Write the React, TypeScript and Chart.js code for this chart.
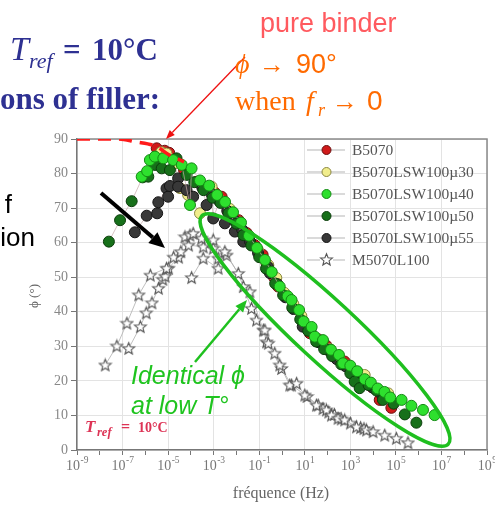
import React, { useEffect, useRef } from 'react';
import { Chart, registerables } from 'chart.js';

Chart.register(...registerables);

// ---------- axes ----------
const xTickExponents = [-9, -8, -7, -6, -5, -4, -3, -2, -1, 0, 1, 2, 3, 4, 5, 6, 7, 8, 9];
const yTickValues = [0, 10, 20, 30, 40, 50, 60, 70, 80, 90];

// ---------- series (log10 of frequency in Hz, phase angle in degrees) ----------
const b5070LogF = [-5.5, -5.15, -4.95, -4.63, -4.3, -3.75, -3.4, -2.95, -2.65, -2.25, -1.9, -1.55, -1.2, -0.85, -0.68, -0.35, -0.17, 0.2, 0.55, 0.9, 1.22, 1.6, 1.95, 2.35, 2.75, 3.15, 3.55, 3.95, 4.29, 4.8];
const b5070Phi = [87.3, 86.6, 86.0, 83.4, 81.0, 77.6, 76.2, 74.5, 73.3, 69.0, 66.5, 62.8, 59.3, 56.5, 54.0, 50.0, 47.3, 44.5, 41.2, 37.5, 33.8, 32.0, 30.2, 27.0, 25.6, 22.4, 20.0, 18.2, 14.5, 12.2];

const mu30LogF = [-5.3, -5.07, -4.7, -4.48, -4.12, -3.6, -3.09, -2.7, -2.3, -1.85, -1.45, -1.05, -0.6, -0.25, 0.1, 0.5, 0.85, 1.25, 1.7, 2.1, 2.5, 2.9, 3.3, 3.63, 4.1, 4.66];
const mu30Phi = [86.2, 85.8, 83.0, 75.8, 73.8, 68.5, 76.2, 72.2, 69.8, 65.8, 61.5, 57.8, 53.5, 49.8, 45.5, 42.2, 38.8, 35.2, 31.5, 29.2, 26.8, 24.4, 22.6, 21.7, 17.8, 16.4];

const mu40LogF = [-6.16, -5.92, -5.8, -5.58, -5.21, -4.78, -4.4, -4.04, -3.97, -3.6, -3.2, -2.85, -2.5, -2.15, -1.8, -1.45, -1.1, -0.75, -0.45, -0.1, 0.25, 0.42, 0.75, 0.95, 1.3, 1.44, 1.8, 2.15, 2.5, 2.68, 3.0, 3.3, 3.63, 3.9, 4.2, 4.5, 4.75, 5.25, 5.68, 6.19, 6.7];
const mu40Phi = [79.1, 80.7, 83.9, 84.9, 84.4, 83.9, 82.5, 70.9, 81.5, 78.0, 76.5, 73.8, 71.8, 68.8, 65.8, 62.0, 58.5, 55.0, 51.5, 47.3, 44.5, 43.4, 40.5, 37.2, 35.6, 32.8, 31.8, 29.0, 27.5, 25.1, 24.4, 22.8, 20.5, 19.5, 17.8, 16.8, 15.2, 14.5, 12.8, 11.6, 10.1];

const mu50LogF = [-7.6, -7.11, -6.6, -6.12, -5.87, -5.58, -5.28, -4.92, -4.63, -4.19, -3.85, -3.45, -3.05, -2.7, -2.35, -2.0, -1.7, -1.35, -1.0, -0.7, -0.3, 0.05, 0.45, 0.8, 1.15, 1.5, 1.85, 2.2, 2.6, 3.0, 3.19, 3.41, 3.8, 4.15, 4.43, 4.9, 5.39, 5.9];
const mu50Phi = [60.3, 66.5, 72.0, 78.9, 79.1, 82.5, 81.5, 81.0, 84.4, 79.6, 77.5, 75.2, 73.0, 71.5, 68.5, 65.5, 62.2, 59.2, 55.8, 52.5, 48.2, 44.8, 41.2, 37.8, 34.5, 31.4, 29.2, 27.2, 24.8, 22.2, 19.8, 17.9, 18.8, 17.2, 14.5, 13.4, 10.3, 7.9];

const mu55LogF = [-6.46, -5.94, -5.48, -5.43, -5.07, -5.0, -4.92, -4.56, -4.56, -4.19, -3.9, -3.5, -3.31, -3.1, -3.02, -2.75, -2.51, -2.4, -2.07, -2.05, -1.75, -1.7, -1.4, -1.05, -0.62, -0.53, -0.2, 0.15, 0.5, 0.91, 1.25, 1.6, 2.0, 2.4, 2.8, 3.2, 3.6, 4.0, 4.4];
const mu55Phi = [63.0, 67.8, 68.5, 71.7, 75.7, 73.3, 76.4, 78.6, 76.2, 75.2, 73.3, 76.0, 70.9, 74.2, 67.0, 72.0, 65.6, 69.2, 63.2, 66.2, 63.8, 60.3, 60.3, 57.0, 53.0, 51.2, 48.0, 44.2, 40.8, 35.7, 34.5, 31.2, 29.0, 26.3, 24.2, 21.6, 19.5, 18.0, 15.8];

// M5070L100 (stars), three isotherm branches
const m5070aLogF = [-7.76, -7.25, -6.81, -6.29, -5.78, -5.07, -4.76, -4.44, -4.26, -4.04, -3.9, -3.53, -3.02, -2.51, -1.92, -1.7, -1.34, -1.12, -0.75, -0.6, -0.32, -0.1, 0.34, 0.64, 1.0, 1.51, 1.95, 2.17, 2.46, 2.75, 3.27, 3.71, 4.0, 4.51, 5.02, 5.53];
const m5070aPhi = [24.6, 30.1, 36.7, 44.9, 50.6, 52.6, 55.8, 57.4, 61.7, 62.2, 62.7, 61.3, 60.8, 57.4, 51.1, 47.3, 41.0, 37.6, 34.7, 30.9, 28.0, 24.6, 18.8, 19.3, 15.9, 13.0, 11.6, 10.1, 9.2, 8.7, 6.7, 5.8, 5.3, 4.3, 3.4, 2.1];
const m5070bLogF = [-6.73, -6.22, -5.96, -5.71, -5.42, -5.23, -5.13, -4.98, -4.54, -4.1, -3.46, -3.02, -2.8, -2.43, -1.41, -0.82, -0.68, -0.02, 0.42, 1.1, 1.59, 1.8, 2.05, 2.3, 2.6, 3.0, 3.45, 3.6];
const m5070bPhi = [29.4, 35.7, 39.7, 42.6, 46.8, 49.4, 50.3, 52.6, 55.8, 59.3, 58.8, 58.4, 55.5, 56.4, 45.8, 34.7, 31.3, 23.6, 18.8, 15.5, 13.0, 12.0, 11.0, 10.3, 9.0, 7.8, 6.5, 6.2];
const m5070cLogF = [-3.97, -3.46, -2.8];
const m5070cPhi = [49.9, 55.5, 52.6];

// pure-binder asymptote (red dashed)
const binderLogF = [-9, -7.2, -6.46, -5.5, -5.0, -4.3];
const binderPhi = [90, 90, 89.2, 87.8, 85.6, 83.4];

const seriesLabels = ['B5070', 'B5070LSW100\u00b530', 'B5070LSW100\u00b540', 'B5070LSW100\u00b550', 'B5070LSW100\u00b555', 'M5070L100'];
const seriesFill = ['#d01a1a', '#f1ed8c', '#2ee02e', '#17701a', '#383838', '#ffffff'];
const seriesEdge = ['#6a1010', '#8a8640', '#138a13', '#0b3d0b', '#151515', '#555555'];

const SERIF = '"Liberation Serif", "DejaVu Serif", serif';
const SANS = '"Liberation Sans", Arial, sans-serif';

function pts(lf: number[], ph: number[]) {
  return lf.map((v, i) => ({ x: Math.pow(10, v), y: ph[i] }));
}

function makeStar(): HTMLCanvasElement {
  const c = document.createElement('canvas');
  c.width = 15;
  c.height = 15;
  const g = c.getContext('2d')!;
  const cx = 7.5, cy = 8, R = 6.2, r = 2.7;
  g.beginPath();
  for (let k = 0; k < 10; k++) {
    const ang = -Math.PI / 2 + (k * Math.PI) / 5;
    const rad = k % 2 === 0 ? R : r;
    g.lineTo(cx + rad * Math.cos(ang), cy + rad * Math.sin(ang));
  }
  g.closePath();
  g.fillStyle = '#ffffff';
  g.fill();
  g.strokeStyle = '#555555';
  g.lineWidth = 1.1;
  g.stroke();
  return c;
}

function arrow(ctx: CanvasRenderingContext2D, x1: number, y1: number, x2: number, y2: number, color: string, lw: number, hl: number, hw: number) {
  const ang = Math.atan2(y2 - y1, x2 - x1);
  const bx = x2 - hl * Math.cos(ang);
  const by = y2 - hl * Math.sin(ang);
  ctx.strokeStyle = color;
  ctx.lineWidth = lw;
  ctx.beginPath();
  ctx.moveTo(x1, y1);
  ctx.lineTo(bx, by);
  ctx.stroke();
  ctx.fillStyle = color;
  ctx.beginPath();
  ctx.moveTo(x2, y2);
  ctx.lineTo(bx + (hw / 2) * Math.sin(ang), by - (hw / 2) * Math.cos(ang));
  ctx.lineTo(bx - (hw / 2) * Math.sin(ang), by + (hw / 2) * Math.cos(ang));
  ctx.closePath();
  ctx.fill();
}

function txt(ctx: CanvasRenderingContext2D, s: string, x: number, y: number, font: string, color: string, align: CanvasTextAlign = 'left') {
  ctx.font = font;
  ctx.fillStyle = color;
  ctx.textAlign = align;
  ctx.textBaseline = 'alphabetic';
  ctx.fillText(s, x, y);
}

export default function App() {
  const ref = useRef<HTMLCanvasElement>(null);

  useEffect(() => {
    const canvas = ref.current!;
    const star = makeStar();

    const circleSet = (i: number, lf: number[], ph: number[], order: number) => ({
      label: seriesLabels[i],
      data: pts(lf, ph),
      showLine: true,
      borderColor: 'rgba(200,170,170,0.7)',
      borderWidth: 1,
      pointRadius: 5.5,
      pointBackgroundColor: seriesFill[i],
      pointBorderColor: seriesEdge[i],
      pointBorderWidth: 1,
      order,
    });
    const starSet = (lf: number[], ph: number[]) => ({
      label: seriesLabels[5],
      data: pts(lf, ph),
      showLine: true,
      borderColor: 'rgba(175,175,175,0.8)',
      borderWidth: 1,
      pointStyle: star,
      pointRadius: 6,
      order: 10,
    });

    const overlay = {
      id: 'overlay',
      beforeDatasetsDraw(chart: any) {
        const { ctx, chartArea: a } = chart;
        ctx.save();
        ctx.strokeStyle = '#8a8a8a';
        ctx.lineWidth = 1.5;
        ctx.beginPath();
        ctx.moveTo(a.left, a.top);
        ctx.lineTo(a.right, a.top);
        ctx.lineTo(a.right, a.bottom);
        ctx.stroke();
        ctx.restore();
      },
      afterDraw(chart: any) {
        const { ctx } = chart;
        const xs = chart.scales.x;
        ctx.save();

        // x tick labels with superscript exponents
        xTickExponents.forEach((e) => {
          if (e % 2 === 0) return;
          const px = xs.getPixelForValue(Math.pow(10, e));
          const base = '10';
          const sup = String(e);
          ctx.font = `14px ${SERIF}`;
          const wb = ctx.measureText(base).width;
          ctx.font = `9.5px ${SERIF}`;
          const ws = ctx.measureText(sup).width;
          const start = px - (wb + ws) / 2;
          txt(ctx, base, start, 470, `14px ${SERIF}`, '#777');
          txt(ctx, sup, start + wb + 0.5, 463, `9.5px ${SERIF}`, '#777');
        });

        // axis titles
        txt(ctx, 'fr\u00e9quence (Hz)', 281, 498, `16px ${SERIF}`, '#666', 'center');
        ctx.save();
        ctx.translate(38, 296);
        ctx.rotate(-Math.PI / 2);
        txt(ctx, '\u03d5 (\u00b0)', 0, 0, `13px ${SERIF}`, '#666', 'center');
        ctx.restore();

        // legend
        seriesLabels.forEach((lab, i) => {
          const y = 150 + i * 22;
          ctx.strokeStyle = '#b5b5b5';
          ctx.lineWidth = 1;
          ctx.beginPath();
          ctx.moveTo(307, y);
          ctx.lineTo(345, y);
          ctx.stroke();
          if (i === 5) {
            ctx.fillStyle = '#fff';
            ctx.fillRect(320, y - 7, 13, 14);
            ctx.drawImage(star, 326.5 - 7.5, y - 8);
          } else {
            ctx.beginPath();
            ctx.arc(326.5, y, 4.5, 0, Math.PI * 2);
            ctx.fillStyle = seriesFill[i];
            ctx.fill();
            ctx.strokeStyle = seriesEdge[i];
            ctx.stroke();
          }
          txt(ctx, lab, 352, y + 5, `15.5px ${SERIF}`, '#555');
        });

        // small red T_ref label inside plot
        const red2 = '#dd3355';
        txt(ctx, 'T', 85, 432, `italic bold 17px ${SERIF}`, red2);
        txt(ctx, 'ref', 97, 436, `italic bold 12.5px ${SERIF}`, red2);
        txt(ctx, '=', 121, 432, `bold 16px ${SERIF}`, red2);
        txt(ctx, '10\u00b0C', 138, 432, `bold 14px ${SERIF}`, red2);

        // green ellipse
        ctx.strokeStyle = '#1fbf1f';
        ctx.lineWidth = 3.5;
        ctx.beginPath();
        ctx.ellipse(325, 330, 168, 30, (42.8 * Math.PI) / 180, 0, Math.PI * 2);
        ctx.stroke();

        // arrows
        arrow(ctx, 245, 57, 166, 139, '#ee1111', 1.3, 9, 7);
        arrow(ctx, 101, 193, 165, 248, '#000000', 4, 16, 14);
        arrow(ctx, 195, 362, 247, 300, '#1fc01f', 2.5, 12, 10);

        // green annotation
        txt(ctx, 'Identical \u03d5', 131, 384, `italic 25px ${SANS}`, '#1fc41f');
        txt(ctx, 'at low T\u00b0', 131, 414, `italic 25px ${SANS}`, '#1fc41f');

        // slide texts (top left, blue)
        const blue = '#2e3192';
        txt(ctx, 'T', 10, 60, `italic 34px ${SERIF}`, blue);
        txt(ctx, 'ref', 29, 68, `italic 22px ${SERIF}`, blue);
        txt(ctx, '=', 63, 60, `bold 31px ${SERIF}`, blue);
        txt(ctx, '10\u00b0C', 92, 60, `bold 31px ${SERIF}`, blue);
        txt(ctx, 'ons of filler:', 0, 109, `bold 31px ${SERIF}`, blue);

        // slide texts (top right)
        txt(ctx, 'pure binder', 260, 32, `27px ${SANS}`, '#ff5a5f');
        const orange = '#ff6a00';
        txt(ctx, '\u03d5', 235, 73, `italic 28px ${SERIF}`, orange);
        txt(ctx, '\u2192', 259, 73, `26px ${SANS}`, orange);
        txt(ctx, '90\u00b0', 296, 73, `27px ${SANS}`, orange);
        txt(ctx, 'when', 235, 110, `28px ${SERIF}`, orange);
        txt(ctx, 'f', 306, 110, `italic 28px ${SERIF}`, orange);
        txt(ctx, 'r', 318, 116, `italic 18px ${SERIF}`, orange);
        txt(ctx, '\u2192', 332, 110, `26px ${SANS}`, orange);
        txt(ctx, '0', 367, 110, `28px ${SANS}`, orange);

        // cut-off slide text at left
        txt(ctx, 'f', 12, 213, `26px ${SANS}`, '#000', 'right');
        txt(ctx, 'ion', 35, 246, `26px ${SANS}`, '#000', 'right');

        ctx.restore();
      },
    };

    const chart = new Chart(canvas, {
      type: 'scatter',
      data: {
        datasets: [
          {
            label: 'pure binder',
            data: pts(binderLogF, binderPhi),
            showLine: true,
            borderColor: '#ff1a1a',
            borderWidth: 3.5,
            borderDash: [13, 8],
            pointRadius: 0,
            tension: 0.4,
            cubicInterpolationMode: 'monotone',
            order: 0,
          } as any,
          circleSet(2, mu40LogF, mu40Phi, 1),
          circleSet(3, mu50LogF, mu50Phi, 2),
          circleSet(4, mu55LogF, mu55Phi, 3),
          circleSet(1, mu30LogF, mu30Phi, 4),
          circleSet(0, b5070LogF, b5070Phi, 5),
          starSet(m5070aLogF, m5070aPhi),
          starSet(m5070bLogF, m5070bPhi),
          starSet(m5070cLogF, m5070cPhi),
        ],
      },
      options: {
        animation: false,
        responsive: false,
        devicePixelRatio: 1,
        layout: { padding: { left: 0, right: 8, top: 139, bottom: 0 } },
        plugins: { legend: { display: false }, tooltip: { enabled: false } },
        scales: {
          x: {
            type: 'logarithmic',
            min: 1e-9,
            max: 1e9,
            afterBuildTicks: (s: any) => {
              s.ticks = xTickExponents.map((e) => ({ value: Math.pow(10, e) }));
            },
            afterFit: (s: any) => {
              s.height = 56;
            },
            ticks: { display: false, autoSkip: false },
            grid: {
              color: (c: any) => {
                const v = c.tick ? c.tick.value : 1;
                const e = Math.round(Math.log10(v));
                return e % 2 !== 0 ? '#e3e3e3' : 'rgba(0,0,0,0)';
              },
              tickColor: '#777',
              tickLength: 5,
              lineWidth: 1,
            },
            border: { color: '#777', width: 1.5 },
          },
          y: {
            min: 0,
            max: 90,
            afterBuildTicks: (s: any) => {
              s.ticks = yTickValues.map((v) => ({ value: v }));
            },
            afterFit: (s: any) => {
              s.width = 77;
            },
            ticks: { color: '#888', font: { family: SERIF, size: 14 }, padding: 3 },
            grid: { color: '#e3e3e3', tickColor: '#777', tickLength: 6, lineWidth: 1 },
            border: { color: '#777', width: 1.5 },
          },
        },
      } as any,
      plugins: [overlay],
    });

    return () => chart.destroy();
  }, []);

  return (
    <div style={{ position: 'absolute', left: 0, top: 0, width: 495, height: 506, background: '#fff' }}>
      <canvas ref={ref} width={495} height={506} style={{ display: 'block', width: 495, height: 506 }} />
    </div>
  );
}
